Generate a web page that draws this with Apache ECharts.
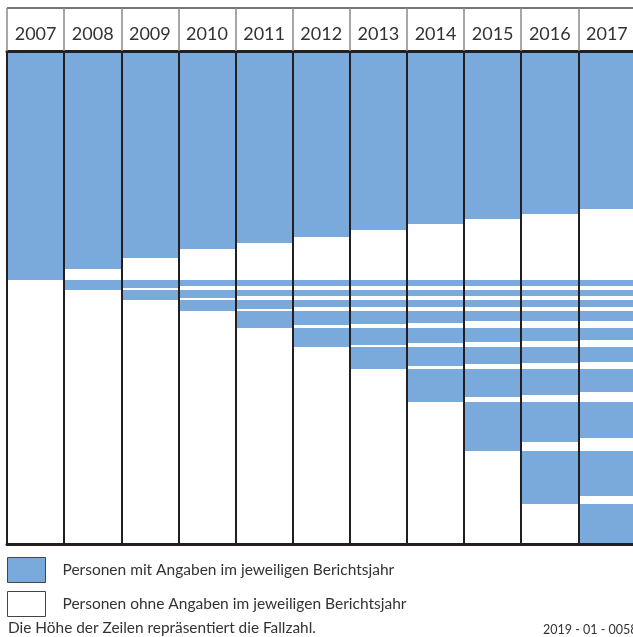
<!DOCTYPE html>
<html>
<head>
<meta charset="utf-8">
<script src="https://cdn.jsdelivr.net/npm/echarts@6/dist/echarts.min.js"></script>
<style>
html,body{margin:0;padding:0;background:#fff;}
#chart{width:633px;height:637px;}
</style>
</head>
<body>
<div id="chart"></div>
<script>
// Berichtsjahre (Spalten) und Zugangsjahrgaenge (Zeilen)
var years = ['2007','2008','2009','2010','2011','2012','2013','2014','2015','2016','2017'];
// Zeilenhoehe = Fallzahl des Jahrgangs (relative Einheiten)
var cohortTotal = [229, 10, 10, 11, 17, 19, 22, 33, 49, 53, 40];
// Personen mit Angaben je Berichtsjahr, ab dem Jahr des Jahrgangs
var withData2007 = [229, 218, 207, 198, 192, 186, 179, 173, 168, 163, 158];
var withData2008 = [10, 8, 6, 6, 6, 6, 6, 6, 6, 6];
var withData2009 = [10, 8, 6, 6, 6, 6, 6, 6, 6];
var withData2010 = [11, 9, 7, 7, 7, 7, 7, 7];
var withData2011 = [17, 14, 13, 12, 10, 10, 10];
var withData2012 = [19, 17, 15, 14, 13, 12];
var withData2013 = [22, 19, 17, 16, 15];
var withData2014 = [33, 28, 26, 23];
var withData2015 = [49, 40, 36];
var withData2016 = [53, 45];
var withData2017 = [40];

var withData = [withData2007, withData2008, withData2009, withData2010, withData2011,
    withData2012, withData2013, withData2014, withData2015, withData2016, withData2017];

var labelMit = 'Personen mit Angaben im jeweiligen Berichtsjahr';
var labelOhne = 'Personen ohne Angaben im jeweiligen Berichtsjahr';

var total = 0;
var rowStart = [];
for (var i = 0; i < cohortTotal.length; i++) {
    rowStart.push(total);
    total += cohortTotal[i];
}

// [spalte, von, bis]
var blueCells = [], whiteCells = [];
for (var c = 0; c < withData.length; c++) {
    for (var k = 0; k < withData[c].length; k++) {
        var colIdx = c + k;
        var rowTop = rowStart[c];
        blueCells.push([colIdx, rowTop, rowTop + withData[c][k]]);
        if (withData[c][k] < cohortTotal[c]) {
            whiteCells.push([colIdx, rowTop + withData[c][k], rowTop + cohortTotal[c]]);
        }
    }
}

function renderCell(params, api) {
    var x = api.coord([api.value(0), 0])[0];
    var w = api.size([1, 0])[0];
    var y0 = api.coord([api.value(0), api.value(1)])[1];
    var y1 = api.coord([api.value(0), api.value(2)])[1];
    return {
        type: 'rect',
        shape: { x: x - w / 2, y: Math.min(y0, y1), width: w, height: Math.abs(y1 - y0) },
        style: { fill: api.visual('color') }
    };
}

var font = 'Lato, "Noto Sans", sans-serif';
var myChart = echarts.init(document.getElementById('chart'));

var option = {
    backgroundColor: '#fff',
    animation: false,
    grid: { left: 7, top: 51, width: 628.5, height: total, outerBoundsMode: 'none', containLabel: false },
    xAxis: [{
        type: 'category',
        data: years,
        position: 'top',
        z: 10,
        axisLine: { show: true, lineStyle: { color: '#231f20', width: 3 } },
        axisTick: { show: true, interval: 0, length: 43, lineStyle: { color: '#8a8a8a', width: 1.5 } },
        axisLabel: { interval: 0, margin: 8, fontSize: 18, fontFamily: font, color: '#333' },
        splitLine: { show: true, interval: 0, lineStyle: { color: '#231f20', width: 2 } }
    }, {
        type: 'category',
        data: years,
        position: 'bottom',
        z: 10,
        axisLine: { show: true, lineStyle: { color: '#231f20', width: 3 } },
        axisTick: { show: false },
        axisLabel: { show: false },
        splitLine: { show: false }
    }],
    yAxis: {
        type: 'value',
        inverse: true,
        min: 0,
        max: total,
        axisLine: { show: false },
        axisTick: { show: false },
        axisLabel: { show: false },
        splitLine: { show: false }
    },
    legend: {
        orient: 'vertical',
        left: 7,
        top: 557,
        padding: 0,
        itemWidth: 38,
        itemHeight: 25,
        itemGap: 8,
        selectedMode: false,
        icon: 'rect',
        itemStyle: { borderColor: '#444', borderWidth: 1 },
        textStyle: { fontSize: 15.5, fontFamily: font, color: '#333', padding: [0, 0, 0, 12] },
        data: [labelMit, labelOhne]
    },
    graphic: [{
        type: 'line',
        shape: { x1: 7, y1: 8, x2: 633, y2: 8 },
        style: { stroke: '#777', lineWidth: 2 }
    }, {
        type: 'text',
        left: 8,
        top: 621,
        style: { text: 'Die Höhe der Zeilen repräsentiert die Fallzahl.', font: '15.4px ' + font, fill: '#333' }
    }, {
        type: 'text',
        left: 543,
        top: 623,
        style: { text: '2019 - 01 - 0058', font: '12.5px ' + font, fill: '#333' }
    }],
    series: [{
        name: labelMit,
        type: 'custom',
        xAxisIndex: 0,
        renderItem: renderCell,
        itemStyle: { color: '#7aaadb' },
        encode: { x: 0, y: [1, 2] },
        data: blueCells,
        z: 1
    }, {
        name: labelOhne,
        type: 'custom',
        xAxisIndex: 0,
        renderItem: renderCell,
        itemStyle: { color: '#ffffff' },
        encode: { x: 0, y: [1, 2] },
        data: whiteCells,
        z: 1
    }]
};
myChart.setOption(option);
</script>
</body>
</html>
